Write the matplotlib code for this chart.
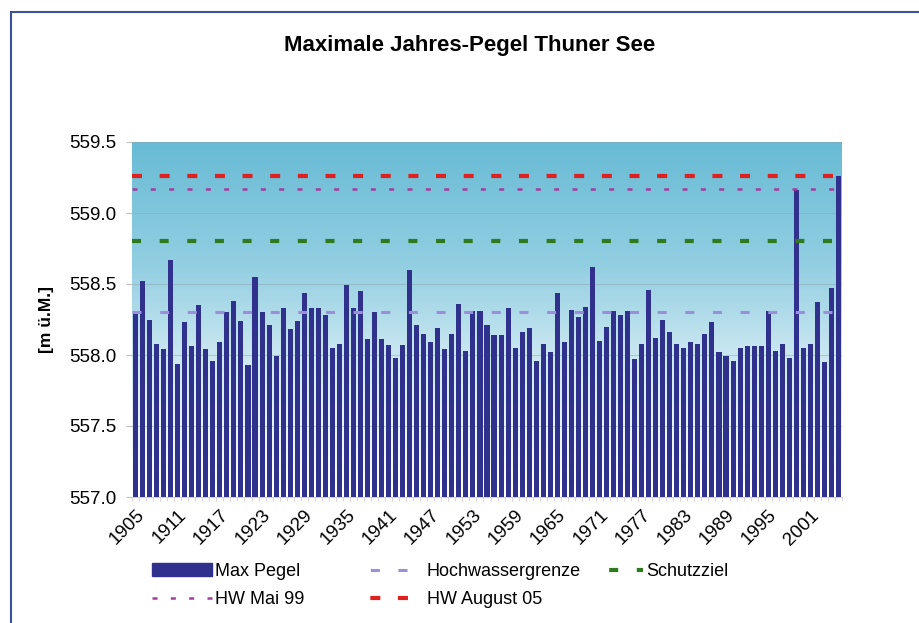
import numpy as np
import matplotlib.pyplot as plt
from matplotlib.lines import Line2D
from matplotlib.patches import Rectangle
from matplotlib.colors import LinearSegmentedColormap

plt.rcParams['font.family'] = ['Liberation Sans', 'DejaVu Sans']
plt.rcParams['lines.scale_dashes'] = False

# Jahre und maximale Pegelstände (m ü.M.)
years = np.arange(1905, 2006)
max_pegel = [
    558.30, 558.52, 558.25, 558.08, 558.04, 558.67, 557.94, 558.23, 558.06, 558.35,  # 1905-1914
    558.04, 557.96, 558.09, 558.30, 558.38, 558.24, 557.93, 558.55, 558.30, 558.21,  # 1915-1924
    557.99, 558.33, 558.18, 558.24, 558.44, 558.33, 558.33, 558.28, 558.05, 558.08,  # 1925-1934
    558.49, 558.33, 558.45, 558.11, 558.30, 558.11, 558.07, 557.98, 558.07, 558.60,  # 1935-1944
    558.21, 558.15, 558.09, 558.19, 558.04, 558.15, 558.36, 558.03, 558.31, 558.31,  # 1945-1954
    558.21, 558.14, 558.14, 558.33, 558.05, 558.16, 558.19, 557.96, 558.08, 558.02,  # 1955-1964
    558.44, 558.09, 558.32, 558.27, 558.34, 558.62, 558.10, 558.20, 558.31, 558.28,  # 1965-1974
    558.31, 557.97, 558.08, 558.46, 558.12, 558.25, 558.16, 558.08, 558.05, 558.09,  # 1975-1984
    558.08, 558.15, 558.23, 558.02, 557.99, 557.96, 558.05, 558.06, 558.06, 558.06,  # 1985-1994
    558.31, 558.03, 558.08, 557.98, 559.16, 558.05, 558.08, 558.37, 557.95, 558.47,  # 1995-2004
    559.26,                                                                          # 2005
]

# Referenzlinien
hochwassergrenze = 558.30
schutzziel = 558.80
hw_mai_99 = 559.17
hw_august_05 = 559.26

BAR_COLOR = '#30308d'
style_hwg = dict(color='#9b8fdc', lw=2.2)
style_schutz = dict(color='#2f7a1f', lw=3.0)
style_mai = dict(color='#a43c9c', lw=1.8)
style_aug = dict(color='#e01f1f', lw=3.0)

fig = plt.figure(figsize=(9.2, 6.23), dpi=100)
fig.patch.set_facecolor('white')
ax = fig.add_axes([132 / 920, 1 - 497 / 623, 710 / 920, 355 / 623])

# Hintergrund mit Farbverlauf (oben blau, unten weiss)
grad = LinearSegmentedColormap.from_list(
    'bg', [(0.0, '#68bbd5'), (0.35, '#93cfe2'), (0.62, '#cfe9f2'), (1.0, '#ffffff')])
ax.imshow(np.linspace(0, 1, 256).reshape(-1, 1), cmap=grad, aspect='auto',
          extent=[0, 1, 0, 1], transform=ax.transAxes, zorder=0)

x = np.arange(len(years))
ax.bar(x, np.array(max_pegel) - 557.0, bottom=557.0, width=0.72,
       color=BAR_COLOR, zorder=3)

ax.axhline(hochwassergrenze, ls=(0, (6.5, 13.4)), zorder=4, **style_hwg)
ax.axhline(schutzziel, ls=(0, (6.5, 13.4)), zorder=4, **style_schutz)
ax.axhline(hw_mai_99, ls=(0, (3.6, 9.6)), zorder=4, **style_mai)
ax.axhline(hw_august_05, ls=(0, (7.2, 12.7)), zorder=4, **style_aug)

ax.set_xlim(-0.5, len(years) - 0.5)
ax.set_ylim(557.0, 559.5)
yticks = np.arange(557.0, 559.51, 0.5)
ax.set_yticks(yticks)
ax.set_yticklabels([f'{v:.1f}' for v in yticks], fontsize=13.5)
ax.yaxis.grid(True, color='#8aa7b3', lw=0.8, alpha=0.5, zorder=1)
ax.set_axisbelow(True)

ax.set_xticks(x[::6])
ax.set_xticklabels([str(y) for y in years[::6]], rotation=45, ha='right',
                   rotation_mode='anchor', fontsize=13.5)
ax.set_xticks(np.arange(-0.5, len(years), 1), minor=True)
ax.tick_params(axis='x', which='major', length=0, pad=7)
ax.tick_params(axis='x', which='minor', length=3, color='#d8c8d0')
ax.tick_params(axis='y', length=4, color='#c0c0c0', pad=7)

for side in ['top', 'right', 'left']:
    ax.spines[side].set_visible(False)
ax.spines['bottom'].set_color('#d0d0d0')

fig.text(470 / 920, 1 - 45 / 623, 'Maximale Jahres-Pegel Thuner See',
         fontsize=16, fontweight='bold', ha='center', va='center')
ax.set_ylabel('[m ü.M.]', fontsize=12.5, fontweight='bold')
ax.yaxis.set_label_coords(-0.11, 0.5)

# Legende in drei Spalten
leg_kw = dict(loc='upper left', frameon=False, fontsize=13, handletextpad=0.2,
              labelspacing=0.62, borderpad=0, borderaxespad=0)
leg_top = 1 - 563 / 623
fig.legend([Rectangle((0, 0), 1, 1, color=BAR_COLOR),
            Line2D([], [], ls=(0, (3.6, 9.6)), **style_mai)],
           ['Max Pegel', 'HW Mai 99'],
           bbox_to_anchor=(152 / 920, leg_top), handlelength=3.3, **leg_kw)
fig.legend([Line2D([], [], ls=(-6, (6.5, 13.4)), **style_hwg),
            Line2D([], [], ls=(-6, (7.2, 12.7)), **style_aug)],
           ['Hochwassergrenze', 'HW August 05'],
           bbox_to_anchor=(362 / 920, leg_top), handlelength=3.4, **leg_kw)
fig.legend([Line2D([], [], ls=(-3, (6.5, 13.4)), **style_schutz)],
           ['Schutzziel'],
           bbox_to_anchor=(605 / 920, leg_top), handlelength=2.1, **leg_kw)

# Rahmen um die Grafik
fig.patches.append(Rectangle((11 / 920, -0.1), 1.2, 1 - 12 / 623 + 0.1,
                             transform=fig.transFigure, fill=False,
                             edgecolor='#3d5294', lw=1.5))

fig.savefig('out.png', dpi=100)
